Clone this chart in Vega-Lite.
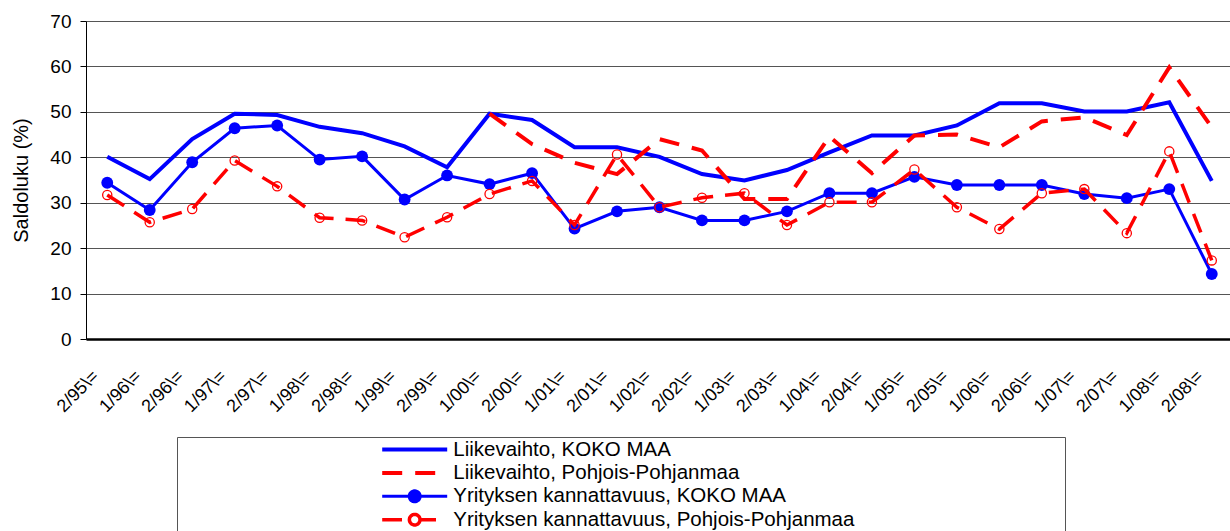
{
  "$schema": "https://vega.github.io/schema/vega-lite/v6.json",
  "autosize": "none",
  "width": 1147,
  "height": 318,
  "padding": {"left": 86, "top": 21, "right": 0, "bottom": 192},
  "background": "white",
  "config": {"font": "Liberation Sans", "view": {"stroke": null}},
  "data": {"values": [
    {"period": "2/95\\=", "Liikevaihto, KOKO MAA": 40.1, "Liikevaihto, Pohjois-Pohjanmaa": null, "Yrityksen kannattavuus, KOKO MAA": 34.4, "Yrityksen kannattavuus, Pohjois-Pohjanmaa": 31.7},
    {"period": "1/96\\=", "Liikevaihto, KOKO MAA": 35.2, "Liikevaihto, Pohjois-Pohjanmaa": null, "Yrityksen kannattavuus, KOKO MAA": 28.4, "Yrityksen kannattavuus, Pohjois-Pohjanmaa": 25.7},
    {"period": "2/96\\=", "Liikevaihto, KOKO MAA": 44.0, "Liikevaihto, Pohjois-Pohjanmaa": null, "Yrityksen kannattavuus, KOKO MAA": 38.9, "Yrityksen kannattavuus, Pohjois-Pohjanmaa": 28.6},
    {"period": "1/97\\=", "Liikevaihto, KOKO MAA": 49.6, "Liikevaihto, Pohjois-Pohjanmaa": null, "Yrityksen kannattavuus, KOKO MAA": 46.4, "Yrityksen kannattavuus, Pohjois-Pohjanmaa": 39.3},
    {"period": "2/97\\=", "Liikevaihto, KOKO MAA": 49.3, "Liikevaihto, Pohjois-Pohjanmaa": null, "Yrityksen kannattavuus, KOKO MAA": 47.0, "Yrityksen kannattavuus, Pohjois-Pohjanmaa": 33.6},
    {"period": "1/98\\=", "Liikevaihto, KOKO MAA": 46.7, "Liikevaihto, Pohjois-Pohjanmaa": null, "Yrityksen kannattavuus, KOKO MAA": 39.5, "Yrityksen kannattavuus, Pohjois-Pohjanmaa": 26.7},
    {"period": "2/98\\=", "Liikevaihto, KOKO MAA": 45.3, "Liikevaihto, Pohjois-Pohjanmaa": null, "Yrityksen kannattavuus, KOKO MAA": 40.2, "Yrityksen kannattavuus, Pohjois-Pohjanmaa": 26.1},
    {"period": "1/99\\=", "Liikevaihto, KOKO MAA": 42.4, "Liikevaihto, Pohjois-Pohjanmaa": null, "Yrityksen kannattavuus, KOKO MAA": 30.7, "Yrityksen kannattavuus, Pohjois-Pohjanmaa": 22.4},
    {"period": "2/99\\=", "Liikevaihto, KOKO MAA": 37.8, "Liikevaihto, Pohjois-Pohjanmaa": null, "Yrityksen kannattavuus, KOKO MAA": 36.0, "Yrityksen kannattavuus, Pohjois-Pohjanmaa": 26.8},
    {"period": "1/00\\=", "Liikevaihto, KOKO MAA": 49.6, "Liikevaihto, Pohjois-Pohjanmaa": 49.6, "Yrityksen kannattavuus, KOKO MAA": 34.1, "Yrityksen kannattavuus, Pohjois-Pohjanmaa": 31.9},
    {"period": "2/00\\=", "Liikevaihto, KOKO MAA": 48.2, "Liikevaihto, Pohjois-Pohjanmaa": 42.9, "Yrityksen kannattavuus, KOKO MAA": 36.5, "Yrityksen kannattavuus, Pohjois-Pohjanmaa": 34.8},
    {"period": "1/01\\=", "Liikevaihto, KOKO MAA": 42.2, "Liikevaihto, Pohjois-Pohjanmaa": 38.8, "Yrityksen kannattavuus, KOKO MAA": 24.3, "Yrityksen kannattavuus, Pohjois-Pohjanmaa": 25.1},
    {"period": "2/01\\=", "Liikevaihto, KOKO MAA": 42.2, "Liikevaihto, Pohjois-Pohjanmaa": 36.3, "Yrityksen kannattavuus, KOKO MAA": 28.1, "Yrityksen kannattavuus, Pohjois-Pohjanmaa": 40.6},
    {"period": "1/02\\=", "Liikevaihto, KOKO MAA": 40.1, "Liikevaihto, Pohjois-Pohjanmaa": 44.0, "Yrityksen kannattavuus, KOKO MAA": 29.0, "Yrityksen kannattavuus, Pohjois-Pohjanmaa": 29.0},
    {"period": "2/02\\=", "Liikevaihto, KOKO MAA": 36.3, "Liikevaihto, Pohjois-Pohjanmaa": 41.5, "Yrityksen kannattavuus, KOKO MAA": 26.1, "Yrityksen kannattavuus, Pohjois-Pohjanmaa": 31.1},
    {"period": "1/03\\=", "Liikevaihto, KOKO MAA": 34.9, "Liikevaihto, Pohjois-Pohjanmaa": 30.8, "Yrityksen kannattavuus, KOKO MAA": 26.1, "Yrityksen kannattavuus, Pohjois-Pohjanmaa": 32.1},
    {"period": "2/03\\=", "Liikevaihto, KOKO MAA": 37.2, "Liikevaihto, Pohjois-Pohjanmaa": 30.8, "Yrityksen kannattavuus, KOKO MAA": 28.1, "Yrityksen kannattavuus, Pohjois-Pohjanmaa": 25.1},
    {"period": "1/04\\=", "Liikevaihto, KOKO MAA": 41.1, "Liikevaihto, Pohjois-Pohjanmaa": 44.6, "Yrityksen kannattavuus, KOKO MAA": 32.1, "Yrityksen kannattavuus, Pohjois-Pohjanmaa": 30.1},
    {"period": "2/04\\=", "Liikevaihto, KOKO MAA": 44.8, "Liikevaihto, Pohjois-Pohjanmaa": 36.5, "Yrityksen kannattavuus, KOKO MAA": 32.1, "Yrityksen kannattavuus, Pohjois-Pohjanmaa": 30.1},
    {"period": "1/05\\=", "Liikevaihto, KOKO MAA": 44.8, "Liikevaihto, Pohjois-Pohjanmaa": 44.8, "Yrityksen kannattavuus, KOKO MAA": 35.7, "Yrityksen kannattavuus, Pohjois-Pohjanmaa": 37.3},
    {"period": "2/05\\=", "Liikevaihto, KOKO MAA": 47.0, "Liikevaihto, Pohjois-Pohjanmaa": 45.0, "Yrityksen kannattavuus, KOKO MAA": 33.9, "Yrityksen kannattavuus, Pohjois-Pohjanmaa": 29.0},
    {"period": "1/06\\=", "Liikevaihto, KOKO MAA": 51.9, "Liikevaihto, Pohjois-Pohjanmaa": 42.2, "Yrityksen kannattavuus, KOKO MAA": 33.9, "Yrityksen kannattavuus, Pohjois-Pohjanmaa": 24.2},
    {"period": "2/06\\=", "Liikevaihto, KOKO MAA": 51.9, "Liikevaihto, Pohjois-Pohjanmaa": 47.9, "Yrityksen kannattavuus, KOKO MAA": 33.9, "Yrityksen kannattavuus, Pohjois-Pohjanmaa": 32.1},
    {"period": "1/07\\=", "Liikevaihto, KOKO MAA": 50.1, "Liikevaihto, Pohjois-Pohjanmaa": 48.8, "Yrityksen kannattavuus, KOKO MAA": 31.9, "Yrityksen kannattavuus, Pohjois-Pohjanmaa": 33.0},
    {"period": "2/07\\=", "Liikevaihto, KOKO MAA": 50.1, "Liikevaihto, Pohjois-Pohjanmaa": 44.9, "Yrityksen kannattavuus, KOKO MAA": 31.0, "Yrityksen kannattavuus, Pohjois-Pohjanmaa": 23.3},
    {"period": "1/08\\=", "Liikevaihto, KOKO MAA": 52.1, "Liikevaihto, Pohjois-Pohjanmaa": 59.8, "Yrityksen kannattavuus, KOKO MAA": 33.0, "Yrityksen kannattavuus, Pohjois-Pohjanmaa": 41.3},
    {"period": "2/08\\=", "Liikevaihto, KOKO MAA": 34.8, "Liikevaihto, Pohjois-Pohjanmaa": 46.6, "Yrityksen kannattavuus, KOKO MAA": 14.3, "Yrityksen kannattavuus, Pohjois-Pohjanmaa": 17.3}
  ]},
  "transform": [
    {"fold": ["Liikevaihto, KOKO MAA", "Liikevaihto, Pohjois-Pohjanmaa", "Yrityksen kannattavuus, KOKO MAA", "Yrityksen kannattavuus, Pohjois-Pohjanmaa"], "as": ["series", "value"]}
  ],
  "encoding": {
    "x": {
      "field": "period", "type": "ordinal",
      "scale": {"domain": ["2/95\\=", "1/96\\=", "2/96\\=", "1/97\\=", "2/97\\=", "1/98\\=", "2/98\\=", "1/99\\=", "2/99\\=", "1/00\\=", "2/00\\=", "1/01\\=", "2/01\\=", "1/02\\=", "2/02\\=", "1/03\\=", "2/03\\=", "1/04\\=", "2/04\\=", "1/05\\=", "2/05\\=", "1/06\\=", "2/06\\=", "1/07\\=", "2/07\\=", "1/08\\=", "2/08\\="]},
      "axis": {
        "title": null, "labelAngle": -45, "labelFontSize": 18, "labelColor": "black",
        "ticks": false, "labelPadding": 28, "labelOffset": -18,
        "domainColor": "black", "domainWidth": 2.5, "grid": false
      }
    },
    "y": {
      "field": "value", "type": "quantitative",
      "scale": {"domain": [0, 70], "nice": false},
      "axis": {
        "title": "Saldoluku (%)", "titleFontSize": 20, "titleFontWeight": "normal", "titleColor": "black", "titlePadding": 18,
        "values": [0, 10, 20, 30, 40, 50, 60, 70],
        "labelFontSize": 19, "labelColor": "black", "labelPadding": 9,
        "tickSize": 6, "tickColor": "black", "domainColor": "black", "domainWidth": 1,
        "grid": true, "gridColor": "#555555", "gridWidth": 1
      }
    }
  },
  "layer": [
    {
      "transform": [{"filter": "datum.series === 'Liikevaihto, KOKO MAA'"}],
      "mark": {"type": "line", "strokeWidth": 4},
      "encoding": {
        "color": {
          "field": "series", "type": "nominal",
          "scale": {
            "domain": ["Liikevaihto, KOKO MAA", "Liikevaihto, Pohjois-Pohjanmaa", "Yrityksen kannattavuus, KOKO MAA", "Yrityksen kannattavuus, Pohjois-Pohjanmaa"],
            "range": ["#0000ff", "#ff0000", "#0000ff", "#ff0000"]
          },
          "legend": {
            "title": null, "orient": "none", "legendX": 91, "legendY": 416, "direction": "vertical",
            "padding": 2, "strokeColor": "#555555", "fillColor": "white",
            "symbolSize": 400, "clipHeight": 21,
            "labelFontSize": 20.5, "labelColor": "black", "labelLimit": 0, "rowPadding": 2.4,
            "symbolStrokeWidth": 4,
            "encode": {
              "entries": {
                "update": {
                  "width": {"value": 884}
                }
              },
              "symbols": {
                "update": {
                  "x": {"value": 235.7},
                  "shape": {"signal": "['M-3.25,0H3.25','M-3.25,0H2.13','M-3.25,0H3.25M0.55,0A0.55,0.55,0,1,1,-0.55,0A0.55,0.55,0,1,1,0.55,0','M-3.25,0H-1.27M0.53,0H2.13M0.53,0A0.53,0.53,0,1,1,-0.53,0A0.53,0.53,0,1,1,0.53,0'][datum.index]"},
                  "strokeDash": {"signal": "[[1,0],[20,13],[1,0],[1,0]][datum.index]"},
                  "strokeWidth": {"signal": "[4,4,3,3.5][datum.index]"},
                  "fill": {"signal": "['transparent','transparent','#0000ff','white'][datum.index]"},
                  "fillOpacity": {"value": 1}
                }
              },
              "labels": {
                "update": {
                  "x": {"value": 274.3}
                }
              }
            }
          }
        }
      }
    },
    {
      "transform": [{"filter": "datum.series === 'Liikevaihto, Pohjois-Pohjanmaa'"}],
      "mark": {"type": "line", "strokeWidth": 4, "strokeDash": [20, 13]},
      "encoding": {"color": {"field": "series", "type": "nominal"}}
    },
    {
      "transform": [{"filter": "datum.series === 'Yrityksen kannattavuus, KOKO MAA'"}],
      "mark": {"type": "line", "strokeWidth": 3},
      "encoding": {"color": {"field": "series", "type": "nominal"}}
    },
    {
      "transform": [{"filter": "datum.series === 'Yrityksen kannattavuus, KOKO MAA'"}],
      "mark": {"type": "point", "shape": "circle", "filled": true, "color": "#0000ff", "size": 140, "opacity": 1},
      "encoding": {}
    },
    {
      "transform": [{"filter": "datum.series === 'Yrityksen kannattavuus, Pohjois-Pohjanmaa'"}],
      "mark": {"type": "line", "strokeWidth": 3.5, "strokeDash": [20, 12]},
      "encoding": {"color": {"field": "series", "type": "nominal"}}
    },
    {
      "transform": [{"filter": "datum.series === 'Yrityksen kannattavuus, Pohjois-Pohjanmaa'"}],
      "mark": {"type": "point", "shape": "circle", "filled": false, "stroke": "#ff0000", "strokeWidth": 1.3, "size": 85, "opacity": 1},
      "encoding": {}
    }
  ]
}
